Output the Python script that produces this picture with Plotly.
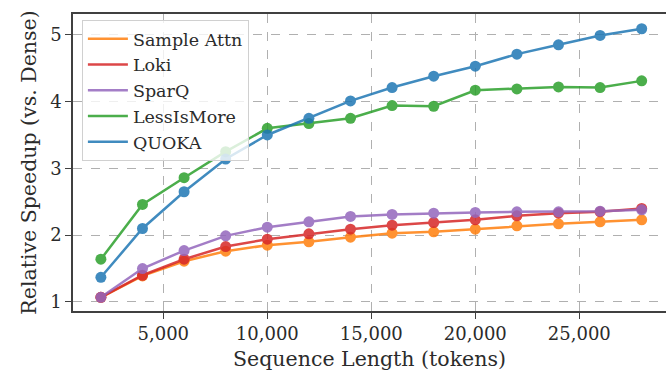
import plotly.graph_objects as go

seq_len = [2000, 4000, 6000, 8000, 10000, 12000, 14000, 16000, 18000, 20000, 22000, 24000, 26000, 28000]
sample_attn = [1.07, 1.39, 1.61, 1.76, 1.85, 1.90, 1.97, 2.03, 2.05, 2.09, 2.14, 2.17, 2.20, 2.23]
loki = [1.07, 1.40, 1.64, 1.83, 1.94, 2.02, 2.09, 2.15, 2.19, 2.23, 2.29, 2.33, 2.35, 2.40]
sparq = [1.07, 1.50, 1.77, 1.99, 2.12, 2.20, 2.28, 2.31, 2.33, 2.34, 2.35, 2.35, 2.36, 2.38]
lessismore = [1.64, 2.46, 2.86, 3.25, 3.60, 3.67, 3.75, 3.94, 3.93, 4.17, 4.19, 4.22, 4.21, 4.31]
quoka = [1.37, 2.10, 2.65, 3.14, 3.50, 3.75, 4.01, 4.21, 4.38, 4.53, 4.71, 4.85, 4.99, 5.09]

names = ["Sample Attn", "Loki", "SparQ", "LessIsMore", "QUOKA"]
series = [sample_attn, loki, sparq, lessismore, quoka]
colors = ["#ff7f0e", "#d62728", "#9467bd", "#2ca02c", "#1f77b4"]

x_ticks = [5000, 10000, 15000, 20000, 25000]
y_ticks = [1, 2, 3, 4, 5]

FONT = "DejaVu Serif"
TXT = "#2b2b2b"

fig = go.Figure()
for name, ys, c in zip(names, series, colors):
    fig.add_trace(go.Scatter(
        x=seq_len, y=ys, mode="lines+markers", name=name, showlegend=False,
        line=dict(color=c, width=2.5), marker=dict(color=c, size=11),
        opacity=0.85,
    ))
for name, c in zip(names, colors):
    fig.add_trace(go.Scatter(
        x=[None], y=[None], mode="lines", name=name, showlegend=True,
        line=dict(color=c, width=2.5), opacity=0.85,
    ))

fig.update_layout(
    width=666, height=373,
    margin=dict(l=73, r=0, t=14, b=62),
    paper_bgcolor="white", plot_bgcolor="white",
    font=dict(family=FONT, color=TXT, size=18),
    legend=dict(
        x=0.015, y=0.98, xanchor="left", yanchor="top",
        bgcolor="rgba(255,255,255,0.8)", bordercolor="#d0d0d0", borderwidth=1,
        font=dict(family=FONT, size=17.5, color=TXT),
        itemwidth=40, tracegroupgap=0,
    ),
)
fig.update_xaxes(
    range=[659, 29169], tickvals=x_ticks, tickformat=",",
    showgrid=True, gridcolor="#b0b0b0", griddash="dash", gridwidth=1,
    showline=True, linecolor="#404040", linewidth=1.5, mirror=True,
    ticks="outside", ticklen=6, tickcolor="#404040", tickwidth=1.2,
    tickfont=dict(family=FONT, size=18, color=TXT),
    title=dict(text="Sequence Length (tokens)", font=dict(family=FONT, size=20.5, color=TXT), standoff=8),
    zeroline=False,
)
fig.update_yaxes(
    range=[0.865, 5.311], tickvals=y_ticks,
    showgrid=True, gridcolor="#b0b0b0", griddash="dash", gridwidth=1,
    showline=True, linecolor="#404040", linewidth=1.5, mirror=False,
    ticks="outside", ticklen=6, tickcolor="#404040", tickwidth=1.2,
    tickfont=dict(family=FONT, size=18, color=TXT),
    title=dict(text="Relative Speedup (vs. Dense)", font=dict(family=FONT, size=20.5, color=TXT), standoff=8),
    zeroline=False,
)

fig.write_html("out.html")
